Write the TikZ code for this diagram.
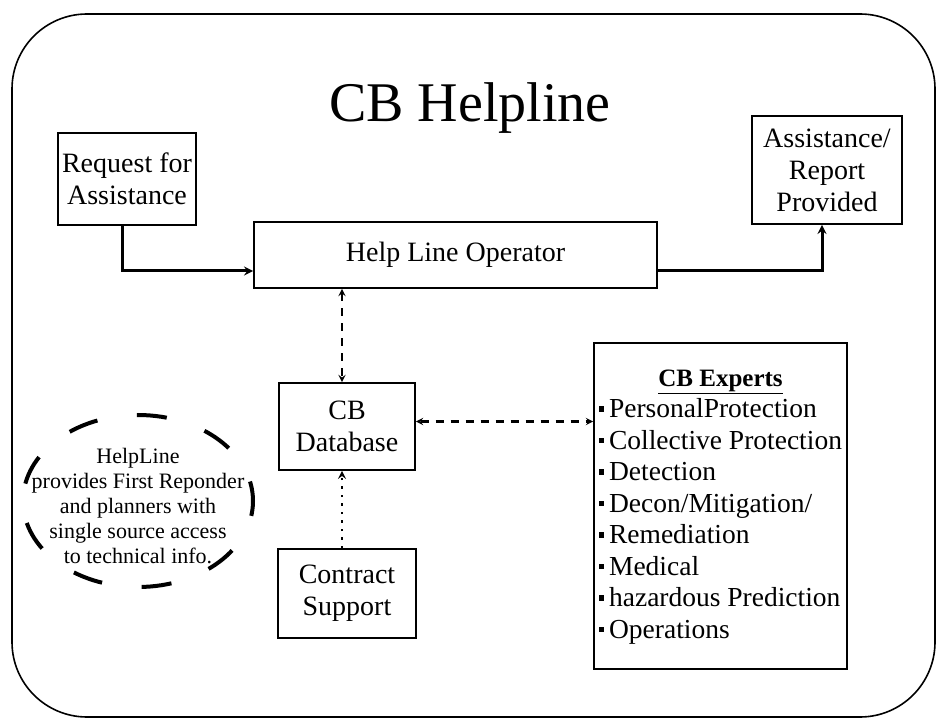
\documentclass[tikz,border=0pt]{standalone}
\usepackage{fontspec}
\setmainfont{Liberation Serif}
\usetikzlibrary{arrows,shapes}
\tikzset{
  box/.style={draw,line width=1.6pt,align=center,inner sep=0pt,font=\fontsize{28}{32}\selectfont},
  link/.style={->,>=stealth,line width=3pt},
  dlink/.style={<->,>=stealth,line width=2.2pt,dash pattern=on 8pt off 7pt},
}
\newcommand{\sqb}{\rule[0.22em]{0.2em}{0.2em}\,}

\begin{document}
\begin{tikzpicture}[x=1pt,y=-1pt]
  \useasboundingbox (0,0) rectangle (938,719);
  \draw[line width=1.6pt,rounded corners=75pt] (12,14) rectangle (935,717);
  \node[anchor=base,font=\fontsize{56}{60}\selectfont] (title) at (470,122) {CB Helpline};
  \node[box,minimum width=138pt,minimum height=92pt] (req) at (127,179) {Request for\\Assistance};
  \node[box,minimum width=150pt,minimum height=108pt] (prov) at (827,170) {Assistance/\\Report\\Provided};
  \node[box,minimum width=403pt,minimum height=66pt] (oper) at (455.5,255) {Help Line Operator};
  \node[box,minimum width=136pt,minimum height=87pt] (db) at (347,426.5) {CB\\Database};
  \node[box,minimum width=138pt,minimum height=89pt] (cont) at (347,593.5) {Contract\\Support};
  \node[box,minimum width=253pt,minimum height=326pt,font=\fontsize{27.5}{31.5}\selectfont] (exp) at (720.5,506)
    {\begin{tabular}{@{}l@{}}
      \multicolumn{1}{c}{\fontsize{25}{31.5}\selectfont\underline{\textbf{CB Experts}}}\\
      \sqb PersonalProtection\\
      \sqb Collective Protection\\
      \sqb Detection\\
      \sqb Decon/Mitigation/\\
      \sqb Remediation\\
      \sqb Medical\\
      \sqb hazardous Prediction\\
      \sqb Operations
    \end{tabular}};
  % note bubble
  \node[align=center,font=\fontsize{22}{25}\selectfont] (note) at (138,506)
    {HelpLine\\provides First Reponder\\and planners with\\single source access\\to technical info.};
  \draw[line width=4pt,dash pattern=on 30pt off 40pt,dash phase=15pt] ([yshift=5pt]note.center) ellipse [x radius=115,y radius=86];
  % connectors
  \draw[link] ([xshift=-5pt]req.south) |- ([yshift=-16pt]oper.west);
  \draw[link] ([yshift=-16pt]oper.east) -| ([xshift=-5pt]prov.south);
  \draw[dlink] ([xshift=-5pt]db.north |- oper.south) -- ([xshift=-5pt]db.north);
  \draw[dlink] ([yshift=5pt]db.east) -- ([yshift=5pt]db.east -| exp.west);
  \draw[->,>=stealth,line width=2.5pt,dash pattern=on 2.5pt off 6pt] ([xshift=-5pt]cont.north) -- ([xshift=-5pt]db.south);
\end{tikzpicture}
\end{document}
